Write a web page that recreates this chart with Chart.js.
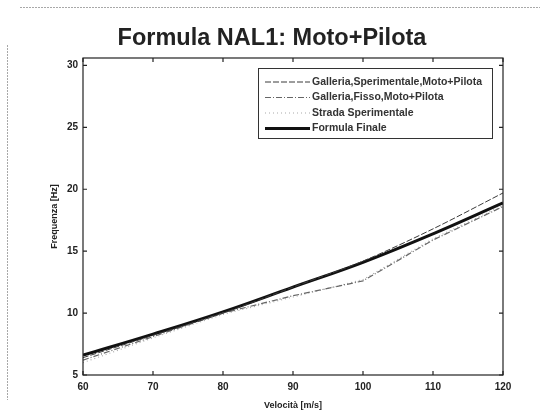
<!DOCTYPE html>
<html>
<head>
<meta charset="utf-8">
<script src="https://cdn.jsdelivr.net/npm/chart.js@4"></script>
<style>
  html, body { margin: 0; padding: 0; background: #fff; }
  #wrap { width: 544px; height: 419px; position: relative; }
</style>
</head>
<body>
<div id="wrap"><canvas id="freqChart"></canvas></div>
<script>
const velocita = [60, 70, 80, 90, 100, 110, 120];
const galleriaSperimentale = [6.4, 8.2, 10.0, 12.1, 14.2, 16.8, 19.7];
const galleriaFisso = [6.2, 8.1, 10.0, 11.4, 12.6, 15.9, 18.6];
const stradaSperimentale = [6.0, 8.0, 9.9, 11.3, 12.7, 16.0, 18.7];
const formulaFinale = [6.6, 8.3, 10.1, 12.1, 14.1, 16.4, 18.9];
const yTicks = [5, 10, 15, 20, 25, 30];
const xTicks = [60, 70, 80, 90, 100, 110, 120];
const chartTitle = "Formula NAL1: Moto+Pilota";

const chartCanvas = document.getElementById("freqChart");
const fontFamily = "'Liberation Sans', Arial, sans-serif";

function toPoints(values) {
  return velocita.map((v, i) => ({ x: v, y: values[i] }));
}

// title, box round the plot, inward ticks and the legend inside the axes
const frameAndLegend = {
  id: "frameAndLegend",
  afterDraw(chart) {
    const ctx = chart.ctx;
    const a = chart.chartArea;
    const xs = chart.scales.x;
    const ys = chart.scales.y;

    ctx.save();
    // scan artefacts along the edges
    ctx.strokeStyle = "rgba(110,110,110,0.6)";
    ctx.lineWidth = 1;
    ctx.setLineDash([2, 1]);
    ctx.beginPath();
    ctx.moveTo(20, 7.5); ctx.lineTo(540, 7.5);
    ctx.moveTo(7.5, 45); ctx.lineTo(7.5, 400);
    ctx.stroke();
    ctx.setLineDash([]);

    ctx.fillStyle = "#222";
    ctx.font = "bold 23.5px " + fontFamily;
    ctx.textAlign = "center";
    ctx.textBaseline = "alphabetic";
    ctx.fillText(chartTitle, 272, 45);

    ctx.strokeStyle = "#222";
    ctx.lineWidth = 1.2;
    ctx.strokeRect(a.left, a.top, a.right - a.left, a.bottom - a.top);

    ctx.beginPath();
    xTicks.forEach(t => {
      const px = xs.getPixelForValue(t);
      ctx.moveTo(px, a.bottom); ctx.lineTo(px, a.bottom - 4);
      ctx.moveTo(px, a.top); ctx.lineTo(px, a.top + 4);
    });
    yTicks.forEach(t => {
      const py = ys.getPixelForValue(t);
      ctx.moveTo(a.left, py); ctx.lineTo(a.left + 4, py);
      ctx.moveTo(a.right, py); ctx.lineTo(a.right - 4, py);
    });
    ctx.stroke();

    // legend
    const lx = 258, ly = 68, lw = 234, lh = 70;
    ctx.fillStyle = "#fff";
    ctx.fillRect(lx, ly, lw, lh);
    ctx.strokeStyle = "#333";
    ctx.lineWidth = 1;
    ctx.strokeRect(lx + 0.5, ly + 0.5, lw, lh);

    ctx.font = "bold 10.5px " + fontFamily;
    ctx.textAlign = "left";
    ctx.textBaseline = "middle";
    chart.data.datasets.forEach((ds, i) => {
      const ry = ly + 14 + i * 15.5;
      ctx.strokeStyle = ds.borderColor;
      ctx.lineWidth = ds.borderWidth;
      ctx.setLineDash(ds.borderDash || []);
      ctx.beginPath();
      ctx.moveTo(lx + 7, ry); ctx.lineTo(lx + 52, ry);
      ctx.stroke();
      ctx.setLineDash([]);
      ctx.fillStyle = "#333";
      ctx.fillText(ds.label, lx + 54, ry);
    });
    ctx.restore();
  }
};

new Chart(chartCanvas, {
  type: "line",
  data: {
    datasets: [
      {
        label: "Galleria,Sperimentale,Moto+Pilota",
        data: toPoints(galleriaSperimentale),
        borderColor: "#3a3a3a",
        borderWidth: 1,
        borderDash: [6, 2],
        tension: 0.3
      },
      {
        label: "Galleria,Fisso,Moto+Pilota",
        data: toPoints(galleriaFisso),
        borderColor: "#666",
        borderWidth: 1.2,
        borderDash: [6, 2, 1, 2]
      },
      {
        label: "Strada Sperimentale",
        data: toPoints(stradaSperimentale),
        borderColor: "#aaa",
        borderWidth: 1.2,
        borderDash: [1, 3]
      },
      {
        label: "Formula Finale",
        data: toPoints(formulaFinale),
        borderColor: "#111",
        borderWidth: 3,
        tension: 0.4
      }
    ]
  },
  options: {
    responsive: true,
    maintainAspectRatio: false,
    animation: false,
    layout: { padding: { top: 58, right: 41, bottom: 0, left: 0 } },
    elements: { point: { radius: 0 } },
    plugins: {
      legend: { display: false },
      tooltip: { enabled: false },
      title: { display: false }
    },
    scales: {
      x: {
        type: "linear",
        min: 60,
        max: 120,
        afterBuildTicks: scale => { scale.ticks = xTicks.map(v => ({ value: v })); },
        afterFit: scale => { scale.height = 44; },
        grid: { display: false, drawTicks: false },
        border: { display: false },
        ticks: {
          color: "#222",
          padding: 6,
          font: { family: fontFamily, size: 10, weight: "bold" }
        },
        title: {
          display: true,
          text: "Velocità [m/s]",
          color: "#222",
          padding: { top: 0, bottom: 8 },
          font: { family: fontFamily, size: 9, weight: "bold" }
        }
      },
      y: {
        type: "linear",
        min: 5,
        max: 30.6,
        afterBuildTicks: scale => { scale.ticks = yTicks.map(v => ({ value: v })); },
        afterFit: scale => { scale.width = 83; },
        grid: { display: false, drawTicks: false },
        border: { display: false },
        ticks: {
          color: "#222",
          padding: 5,
          font: { family: fontFamily, size: 10, weight: "bold" }
        },
        title: {
          display: true,
          text: "Frequenza [Hz]",
          color: "#222",
          padding: { top: 49, bottom: 0 },
          font: { family: fontFamily, size: 9, weight: "bold" }
        }
      }
    }
  },
  plugins: [frameAndLegend]
});
</script>
</body>
</html>
